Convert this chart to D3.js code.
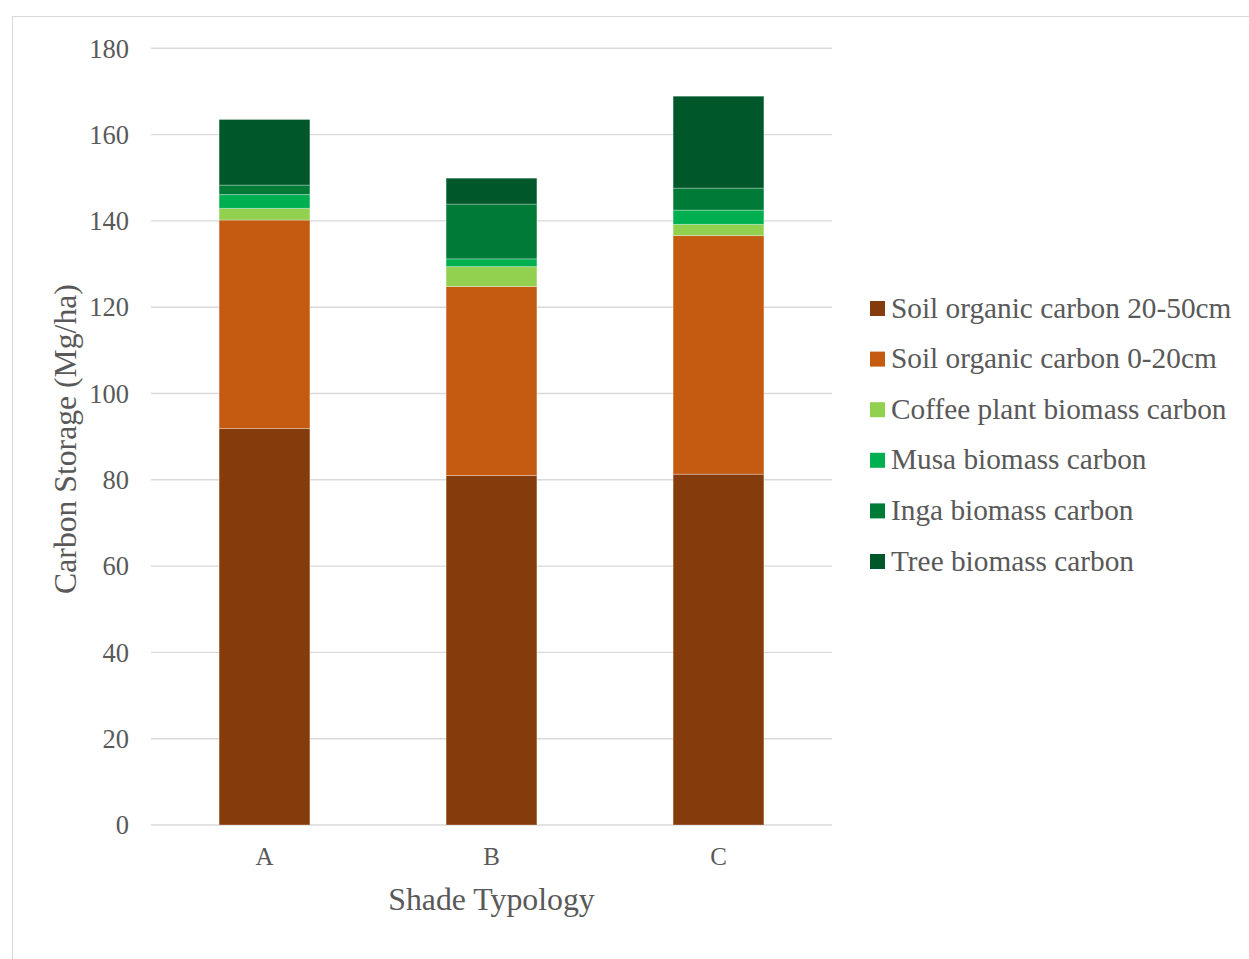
<!DOCTYPE html>
<html>
<head>
<meta charset="utf-8">
<script src="https://cdn.jsdelivr.net/npm/d3@7"></script>
<style>
  html, body { margin: 0; padding: 0; background: #fff; }
  svg { display: block; font-family: "Liberation Serif", "Times New Roman", serif; }
</style>
</head>
<body>
<svg id="chart" width="1249" height="959"></svg>
<script>
// Shade typologies on the x axis
const categories = ["A", "B", "C"];

// Carbon pools, bottom to top of each stack (Mg/ha)
const soilDeep   = [91.9, 81.0, 81.3];   // Soil organic carbon 20-50cm
const soilTop    = [48.3, 43.8, 55.3];   // Soil organic carbon 0-20cm
const coffee     = [2.7, 4.6, 2.6];      // Coffee plant biomass carbon
const musa       = [3.2, 1.8, 3.3];      // Musa biomass carbon
const inga       = [2.2, 12.7, 5.1];     // Inga biomass carbon
const tree       = [15.2, 6.0, 21.3];    // Tree biomass carbon

const seriesNames = [
  "Soil organic carbon 20-50cm",
  "Soil organic carbon 0-20cm",
  "Coffee plant biomass carbon",
  "Musa biomass carbon",
  "Inga biomass carbon",
  "Tree biomass carbon"
];
const seriesColors = ["#843C0C", "#C55A11", "#92D050", "#00B050", "#007A37", "#00582A"];
const yTicks = [0, 20, 40, 60, 80, 100, 120, 140, 160, 180];

const seriesValues = [soilDeep, soilTop, coffee, musa, inga, tree];
const rows = categories.map((c, i) => {
  const r = { cat: c };
  seriesNames.forEach((n, k) => { r[n] = seriesValues[k][i]; });
  return r;
});

const svg = d3.select("#chart");

// chart frame
svg.append("rect")
  .attr("x", 12.5).attr("y", 16.5)
  .attr("width", 1260).attr("height", 960)
  .attr("fill", "none").attr("stroke", "#d9d9d9").attr("stroke-width", 1);

const plot = { left: 151, right: 832, top: 48.3, bottom: 825 };

const x = d3.scaleBand()
  .domain(categories)
  .range([plot.left, plot.right])
  .paddingInner(0.6)
  .paddingOuter(0.3);

const y = d3.scaleLinear()
  .domain([0, 180])
  .range([plot.bottom, plot.top]);

// horizontal gridlines
svg.append("g")
  .selectAll("line")
  .data(yTicks)
  .join("line")
  .attr("x1", plot.left).attr("x2", plot.right)
  .attr("y1", d => y(d)).attr("y2", d => y(d))
  .attr("stroke", "#d9d9d9").attr("stroke-width", 1.4);

// y axis labels
const yAxis = svg.append("g")
  .attr("transform", `translate(${plot.left - 22},0)`)
  .call(d3.axisLeft(y).tickValues(yTicks).tickSize(0).tickPadding(0));
yAxis.select(".domain").remove();
yAxis.selectAll("text")
  .attr("font-family", "Liberation Serif, Times New Roman, serif")
  .attr("font-size", 26.5)
  .attr("fill", "#595959")
  .attr("dy", "0.33em");

// x axis labels
const xAxis = svg.append("g")
  .attr("transform", `translate(0,${plot.bottom})`)
  .call(d3.axisBottom(x).tickSize(0).tickPadding(0));
xAxis.select(".domain").remove();
xAxis.selectAll("text")
  .attr("font-family", "Liberation Serif, Times New Roman, serif")
  .attr("font-size", 25)
  .attr("fill", "#595959")
  .attr("y", 40)
  .attr("dy", 0);

// stacked bars
const stack = d3.stack().keys(seriesNames);
const layers = stack(rows);

svg.append("g")
  .selectAll("g")
  .data(layers)
  .join("g")
  .attr("fill", (d, i) => seriesColors[i])
  .selectAll("rect")
  .data(d => d)
  .join("rect")
  .attr("x", d => x(d.data.cat))
  .attr("width", x.bandwidth())
  .attr("y", d => y(d[1]))
  .attr("height", d => y(d[0]) - y(d[1]))
  .attr("stroke", "rgba(255,255,255,0.3)")
  .attr("stroke-width", 1);

// axis titles
svg.append("text")
  .attr("x", (plot.left + plot.right) / 2)
  .attr("y", 910)
  .attr("text-anchor", "middle")
  .attr("font-size", 31.8)
  .attr("fill", "#595959")
  .text("Shade Typology");

svg.append("text")
  .attr("transform", `translate(76,${(285 + 593) / 2}) rotate(-90)`)
  .attr("text-anchor", "middle")
  .attr("font-size", 31.7)
  .attr("fill", "#595959")
  .text("Carbon Storage (Mg/ha)");

// legend
const legend = svg.append("g")
  .selectAll("g")
  .data(seriesNames)
  .join("g")
  .attr("transform", (d, i) => `translate(870,${308 + i * 50.6})`);

legend.append("rect")
  .attr("x", 0).attr("y", -7)
  .attr("width", 15).attr("height", 15)
  .attr("fill", (d, i) => seriesColors[i]);

legend.append("text")
  .attr("x", 21)
  .attr("y", 0)
  .attr("dy", "0.33em")
  .attr("font-size", 29.3)
  .attr("fill", "#595959")
  .text(d => d);
</script>
</body>
</html>
